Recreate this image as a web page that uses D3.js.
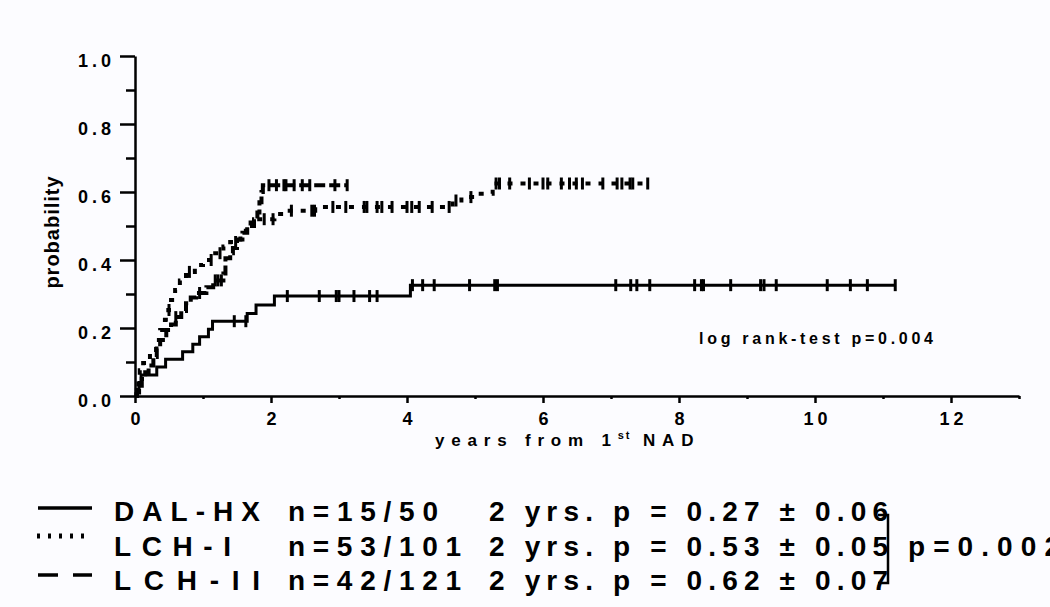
<!DOCTYPE html>
<html>
<head>
<meta charset="utf-8">
<script src="https://cdn.jsdelivr.net/npm/d3@7"></script>
<style>
    body { margin: 0; background: #fcfcff; }
    svg { display: block; font-family: "Liberation Sans", Arial, sans-serif; font-weight: bold; }
</style>
</head>
<body>
<svg id="chart" width="1050" height="607"></svg>
<script>
// values (cumulative probability of event)
const groupNames = ["DAL-HX", "LCH-I", "LCH-II"];
const groupCounts = ["n=15/50", "n=53/101", "n=42/121"];
const groupTwoYear = ["2 yrs. p = 0.27 ± 0.06", "2 yrs. p = 0.53 ± 0.05", "2 yrs. p = 0.62 ± 0.07"];

const dalTimes = [0.02, 0.06, 0.09, 0.32, 0.45, 0.7, 0.85, 0.95, 1.08, 1.14, 1.65, 1.78, 2.05, 4.05];
const dalProb = [0.02, 0.04, 0.062, 0.085, 0.108, 0.13, 0.152, 0.174, 0.196, 0.22, 0.243, 0.268, 0.294, 0.326];
const dalEnd = 11.18;
const dalCensored = [1.46, 1.63, 2.24, 2.71, 2.96, 3.0, 3.22, 3.45, 3.56, 4.08, 4.23, 4.4, 4.92, 5.29, 5.33,
    7.07, 7.29, 7.38, 7.57, 8.23, 8.33, 8.36, 8.76, 9.2, 9.25, 9.43, 10.18, 10.52, 10.77, 11.18];

const lch1Times = [0.02, 0.05, 0.07, 0.12, 0.22, 0.31, 0.37, 0.44, 0.49, 0.53, 0.59, 0.66, 0.75, 0.88, 1.0,
    1.15, 1.3, 1.4, 1.55, 1.63, 1.7, 1.78, 2.05, 2.2, 2.65, 4.67, 4.8, 5.02, 5.26];
const lch1Prob = [0.02, 0.05, 0.076, 0.097, 0.126, 0.165, 0.194, 0.224, 0.253, 0.282, 0.312, 0.34, 0.365, 0.385, 0.4,
    0.42, 0.44, 0.453, 0.473, 0.495, 0.51, 0.52, 0.535, 0.545, 0.556, 0.575, 0.585, 0.595, 0.625];
const lch1End = 7.54;
const lch1Censored = [0.5, 0.8, 1.12, 1.25, 1.48, 1.9, 2.03, 2.3, 2.6, 2.64, 2.91, 3.1, 3.37, 3.41, 3.56, 3.63,
    3.78, 4.0, 4.07, 4.18, 4.37, 4.62, 4.72, 4.94, 5.31, 5.36, 5.51, 5.8, 6.0, 6.07, 6.27, 6.39, 6.49, 6.58,
    6.88, 7.09, 7.16, 7.28, 7.32, 7.54];

const lch2Times = [0.03, 0.06, 0.1, 0.15, 0.2, 0.27, 0.32, 0.37, 0.46, 0.53, 0.6, 0.68, 0.75, 0.82, 0.9, 1.05,
    1.15, 1.3, 1.33, 1.4, 1.44, 1.5, 1.58, 1.65, 1.75, 1.8, 1.83, 1.86, 1.88];
const lch2Prob = [0.01, 0.03, 0.05, 0.07, 0.09, 0.115, 0.14, 0.165, 0.194, 0.21, 0.232, 0.25, 0.273, 0.29, 0.303, 0.32,
    0.34, 0.36, 0.405, 0.42, 0.435, 0.46, 0.48, 0.5, 0.52, 0.54, 0.57, 0.6, 0.62];
const lch2End = 3.12;
const lch2Censored = [0.6, 0.95, 1.18, 1.22, 1.27, 1.97, 2.08, 2.19, 2.22, 2.34, 2.46, 2.57, 2.94, 3.12];

const xMajorTicks = [0, 2, 4, 6, 8, 10, 12];
const xMinorTicks = [1, 3, 5, 7, 9, 11, 13];
const yMajorTicks = [0, 0.2, 0.4, 0.6, 0.8, 1.0];
const yMinorTicks = [0.1, 0.3, 0.5, 0.7, 0.9];

const svg = d3.select("#chart");
const x = d3.scaleLinear().domain([0, 13]).range([135, 1019]);
const y = d3.scaleLinear().domain([0, 1]).range([396, 56]);

const dashes = {"DAL-HX": null, "LCH-I": "5,8", "LCH-II": "11,4"};

function stepPoints(times, probs, end) {
    const points = [[0, 0]];
    times.forEach((t, i) => points.push([t, probs[i]]));
    points.push([end, probs[probs.length - 1]]);
    return points;
}

function valueAt(times, probs, t) {
    const i = d3.bisectRight(times, t);
    return i == 0 ? 0 : probs[i - 1];
}

const stepLine = d3.line()
    .x(d => x(d[0]))
    .y(d => y(d[1]))
    .curve(d3.curveStepAfter);

function drawCurve(name, times, probs, end, censored) {
    const g = svg.append("g");
    g.append("path")
        .attr("d", stepLine(stepPoints(times, probs, end)))
        .attr("fill", "none")
        .attr("stroke", "black")
        .attr("stroke-width", name == "DAL-HX" ? 3 : 4)
        .attr("stroke-dasharray", dashes[name]);
    g.selectAll("line")
        .data(censored)
        .enter()
        .append("line")
        .attr("x1", d => x(d))
        .attr("x2", d => x(d))
        .attr("y1", d => y(valueAt(times, probs, d)) - 6)
        .attr("y2", d => y(valueAt(times, probs, d)) + 6)
        .attr("stroke", "black")
        .attr("stroke-width", 3);
}

drawCurve("DAL-HX", dalTimes, dalProb, dalEnd, dalCensored);
drawCurve("LCH-I", lch1Times, lch1Prob, lch1End, lch1Censored);
drawCurve("LCH-II", lch2Times, lch2Prob, lch2End, lch2Censored);

// axes
const xAxis = svg.append("g")
    .attr("transform", "translate(0," + y(0) + ")")
    .call(d3.axisBottom(x).tickValues(xMajorTicks).tickSize(7).tickSizeOuter(0).tickPadding(9).tickFormat(d3.format("d")));
svg.append("g")
    .attr("transform", "translate(0," + y(0) + ")")
    .call(d3.axisBottom(x).tickValues(xMinorTicks).tickSize(3).tickFormat(""))
    .select(".domain").remove();

const yAxis = svg.append("g")
    .attr("transform", "translate(" + x(0) + ",0)")
    .call(d3.axisLeft(y).tickValues(yMajorTicks).tickSize(15).tickSizeOuter(0).tickPadding(5).tickFormat(d3.format(".1f")));
svg.append("g")
    .attr("transform", "translate(" + x(0) + ",0)")
    .call(d3.axisLeft(y).tickValues(yMinorTicks).tickSize(9).tickFormat(""))
    .select(".domain").remove();

svg.selectAll(".domain, .tick line")
    .attr("stroke", "black")
    .attr("stroke-width", 2.5);
svg.selectAll(".tick text")
    .attr("font-family", "Liberation Sans, Arial, sans-serif")
    .attr("font-weight", "bold")
    .attr("font-size", 18)
    .attr("letter-spacing", 4)
    .attr("fill", "black");
xAxis.selectAll(".tick text").attr("dx", 2);
yAxis.selectAll(".tick text").attr("dy", "0.6em");

svg.append("text")
    .attr("transform", "translate(59,232) rotate(-90)")
    .attr("text-anchor", "middle")
    .attr("font-size", 20)
    .attr("letter-spacing", 1)
    .text("probability");

const xLabel = svg.append("text")
    .attr("x", 435)
    .attr("y", 446)
    .attr("font-size", 17)
    .attr("letter-spacing", 6.8);
xLabel.append("tspan").text("years from 1");
xLabel.append("tspan").attr("font-size", 11).attr("letter-spacing", 2).attr("dy", -7).text("st");
xLabel.append("tspan").attr("dy", 7).text(" NAD");

svg.append("text")
    .attr("x", 699)
    .attr("y", 344)
    .attr("font-size", 16)
    .attr("textLength", 234)
    .attr("lengthAdjust", "spacing")
    .text("log rank-test p=0.004");

// legend
const legendBaselines = [521, 556, 590];
const legendMarkY = [508, 536, 575];
const legendDashes = {"DAL-HX": null, "LCH-I": "3,8", "LCH-II": "20,15"};
const nameWidths = [146, 117, 146];
const countWidths = [150, 173, 173];

function legendText(x0, y0, text, width) {
    svg.append("text")
        .attr("x", x0)
        .attr("y", y0)
        .attr("font-size", 28)
        .attr("textLength", width)
        .attr("lengthAdjust", "spacing")
        .text(text);
}

groupNames.forEach((name, i) => {
    svg.append("line")
        .attr("x1", name == "LCH-I" ? 37 : 38)
        .attr("x2", name == "LCH-I" ? 84 : 92)
        .attr("y1", legendMarkY[i])
        .attr("y2", legendMarkY[i])
        .attr("stroke", "black")
        .attr("stroke-width", name == "LCH-I" ? 5 : 3.5)
        .attr("stroke-dasharray", legendDashes[name]);
    legendText(114, legendBaselines[i], name, nameWidths[i]);
    legendText(288, legendBaselines[i], groupCounts[i], countWidths[i]);
    legendText(489, legendBaselines[i], groupTwoYear[i], 399);
});

svg.append("path")
    .attr("d", "M878,515H888V583H878")
    .attr("fill", "none")
    .attr("stroke", "black")
    .attr("stroke-width", 2.5);

legendText(908, 556, "p=0.002", 152);
</script>
</body>
</html>
